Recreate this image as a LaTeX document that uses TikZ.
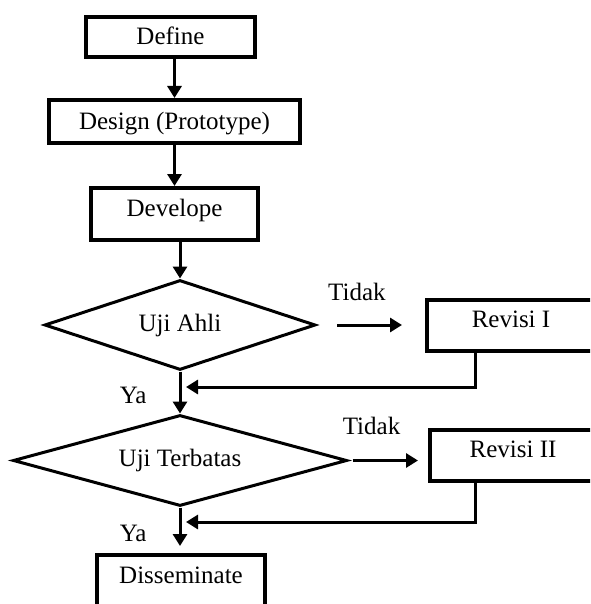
\documentclass[tikz,border=0pt]{standalone}
\usepackage{fontspec}
\setmainfont{Liberation Serif}
\usetikzlibrary{arrows.meta, positioning, shapes.geometric, calc}

\begin{document}
\begin{tikzpicture}[x=1pt, y=-1pt, >={Triangle[length=12pt, width=14pt]},
        font=\fontsize{25}{30}\selectfont,
        box/.style={draw, rectangle, line width=4pt, inner sep=0pt, text height=18pt, text depth=2pt},
        topbox/.style={box, text depth=14pt},
        test/.style={draw, diamond, aspect=3, line width=3pt, inner sep=0pt},
        line/.style={line width=3pt},
        lbl/.style={inner sep=0pt}]
        \path[use as bounding box, clip] (0,0) rectangle (590,604);

        % Nodes
        \node[box, minimum width=169pt, minimum height=40pt] (define) at (170.5,37) {Define};
        \node[box, minimum width=251pt, minimum height=43pt] (design) at (174.5,121.5) {Design (Prototype)};
        \node[topbox, minimum width=167pt, minimum height=52pt] (develope) at (174.5,214) {Develope};
        \node[test, minimum width=271pt, minimum height=90pt] (ahli) at (180,325) {Uji Ahli};
        \node[topbox, minimum width=168pt, minimum height=51pt] (revisi1) at (511,325.5) {Revisi I};
        \node[test, minimum width=334pt, minimum height=91pt] (terbatas) at (180,460.5) {Uji Terbatas};
        \node[topbox, minimum width=166pt, minimum height=51pt] (revisi2) at (513,455.5) {Revisi II};
        \node[topbox, minimum width=168pt, minimum height=52pt] (disseminate) at (181,581) {Disseminate};
        \coordinate (join1) at (180,387);
        \coordinate (join2) at (180,522);

        % Connections
        \draw[line, ->] (define.south -| design.north) -- (design.north);
        \draw[line, ->] (design.south) -- (design.south |- develope.north);
        \draw[line, ->] (develope.south -| ahli.north) -- (ahli.north);
        \draw[line, ->, shorten <=20pt, shorten >=23pt] (ahli.east) -- node[lbl, above=23pt, pos=0.37] {Tidak} (ahli.east -| revisi1.west);
        \draw[line, ->] (ahli.south) -- node[lbl, left=32pt, pos=0.56] {Ya} (terbatas.north);
        \draw[line, ->, shorten >=6pt] ([xshift=-36pt]revisi1.south) |- (join1);
        \draw[line, ->, shorten <=4pt, shorten >=10pt] (terbatas.east) -- node[lbl, above=24pt, pos=0.29] {Tidak} (terbatas.east -| revisi2.west);
        \draw[line, ->, shorten >=7pt] (terbatas.south) -- node[lbl, left=32pt, pos=0.56] {Ya} (terbatas.south |- disseminate.north);
        \draw[line, ->, shorten >=6pt] ([xshift=-38pt]revisi2.south) |- (join2);
\end{tikzpicture}
\end{document}
